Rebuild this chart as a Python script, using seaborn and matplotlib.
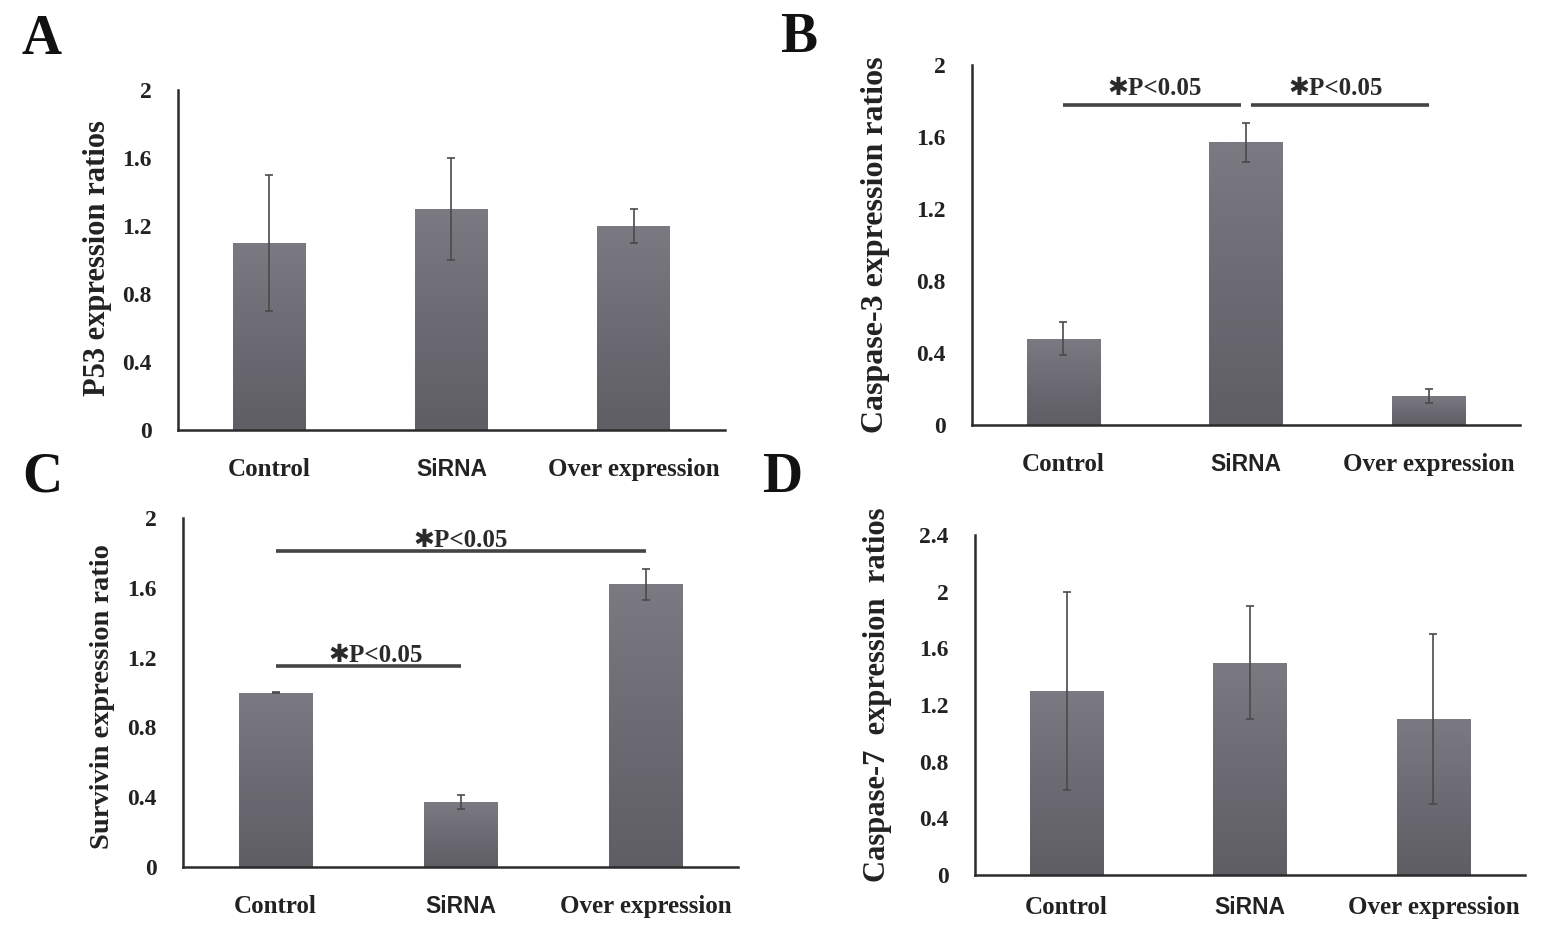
import matplotlib
matplotlib.use("Agg")
import matplotlib.pyplot as plt
import matplotlib.transforms as mtransforms
import seaborn as sns
import numpy as np

sns.set_theme(style="white")
plt.rcParams['font.family'] = ['Liberation Serif', 'DejaVu Sans']

categories = ["Control", "SiRNA", "Over expression"]

p53_vals = [1.10, 1.30, 1.20]
p53_err = [0.40, 0.30, 0.10]

casp3_vals = [0.48, 1.57, 0.16]
casp3_err = [0.09, 0.11, 0.04]

surv_vals = [1.00, 0.37, 1.62]
surv_err = [0.005, 0.04, 0.09]

casp7_vals = [1.30, 1.50, 1.10]
casp7_err = [0.70, 0.40, 0.60]

ticks_2 = [0, 0.4, 0.8, 1.2, 1.6, 2.0]
ticks_2_labels = ["0", "0.4", "0.8", "1.2", "1.6", "2"]
ticks_24 = [0, 0.4, 0.8, 1.2, 1.6, 2.0, 2.4]
ticks_24_labels = ["0", "0.4", "0.8", "1.2", "1.6", "2", "2.4"]

BAR = "#716f78"
ERR = "#4a4a4a"
AX = "#2b2b2b"
TXT = "#222222"

fig = plt.figure(figsize=(15.46, 9.44), dpi=100)
W, H = 1546, 944

def add_ax(l, r, t, b):
    return fig.add_axes([l / W, 1 - b / H, (r - l) / W, (b - t) / H])

axA = add_ax(178, 725, 90, 430)
axB = add_ax(972, 1520, 65, 425)
axC = add_ax(183, 738, 518, 867)
axD = add_ax(975, 1525, 535, 875)

grad = np.linspace(0, 1, 256).reshape(-1, 1)
cmap = matplotlib.colors.LinearSegmentedColormap.from_list(
    "bar", ["#5f5e65", "#6c6b73", "#7b7982"])

def draw(ax, vals, errs, ylabel, ymax, ticks, tlabels, lab_x, lab_y, lab_fs,
         xpad=20, sirna_raise=0):
    sns.barplot(x=categories, y=vals, color=BAR, width=0.4, ax=ax,
                errorbar=None, saturation=1, edgecolor="none")
    for p in ax.patches:
        x0, y0 = p.get_x(), p.get_y()
        w, h = p.get_width(), p.get_height()
        im = ax.imshow(grad, cmap=cmap, aspect="auto", origin="lower",
                       extent=[x0, x0 + w, y0, y0 + h], zorder=p.get_zorder() + 0.1)
        im.set_clip_path(p)
    ax.errorbar(range(len(vals)), vals, yerr=errs, fmt="none", ecolor=ERR,
                elinewidth=1.2, capsize=3, capthick=1.2, zorder=5)
    ax.set_xlim(-0.5, 2.5)
    ax.set_ylim(0, ymax)
    ax.set_yticks(ticks)
    ax.set_yticklabels(tlabels, fontsize=17, fontweight="bold",
                       family="Liberation Serif")
    ax.set_xticks([0, 1, 2])
    ax.set_xticklabels(categories, fontsize=18, fontweight="bold")
    for lbl in ax.get_xticklabels():
        if lbl.get_text() == "SiRNA":
            lbl.set_family("Liberation Sans")
            lbl.set_fontsize(16.5)
            if sirna_raise:
                lbl.set_transform(lbl.get_transform() + mtransforms.ScaledTranslation(
                    0, sirna_raise / 100, fig.dpi_scale_trans))
    ax.tick_params(axis="x", which="major", length=0, pad=xpad)
    ax.set_xticks([-0.5, 0.5, 1.5, 2.5], minor=True)
    ax.tick_params(axis="x", which="minor", length=7, width=1.5,
                   color=AX, direction="out")
    ax.tick_params(axis="y", length=5, width=1.5, color=AX,
                   direction="out", pad=14, labelcolor=TXT)
    ax.tick_params(axis="x", labelcolor=TXT)
    ax.set_xlabel("")
    ax.set_ylabel(ylabel, fontsize=lab_fs, fontweight="bold", color=TXT)
    ax.yaxis.set_label_coords(lab_x, lab_y)
    for s in ["top", "right"]:
        ax.spines[s].set_visible(False)
    for s in ["left", "bottom"]:
        ax.spines[s].set_color(AX)
        ax.spines[s].set_linewidth(1.8)
    ax.grid(False)

draw(axA, p53_vals, p53_err, "P53 expression ratios", 2.0,
     ticks_2, ticks_2_labels, -0.121, 0.505, 22)
draw(axB, casp3_vals, casp3_err, "Caspase-3 expression ratios", 2.0,
     ticks_2, ticks_2_labels, -0.150, 0.5, 23)
draw(axC, surv_vals, surv_err, "Survivin expression ratio", 2.0,
     ticks_2, ticks_2_labels, -0.1225, 0.487, 20.5)
draw(axD, casp7_vals, casp7_err, "Caspase-7  expression  ratios", 2.4,
     ticks_24, ticks_24_labels, -0.151, 0.53, 22, xpad=15, sirna_raise=8)

def sig(ax, x0, x1, y, ty, tx):
    ax.plot([x0, x1], [y, y], color="#444444", lw=2.6, solid_capstyle="butt",
            clip_on=False)
    ax.text(tx, ty, "\u2731P<0.05", ha="center", va="center", fontsize=18,
            fontweight="bold", color="#2a2a2a",
            family=["Liberation Serif", "DejaVu Sans"])

sig(axB, 0.0, 0.97, 1.78, 1.87, 0.5)
sig(axB, 1.03, 2.0, 1.78, 1.87, 1.49)
sig(axC, 0.0, 2.0, 1.81, 1.87, 1.0)
sig(axC, 0.0, 1.0, 1.15, 1.21, 0.54)

for letter, x, y in [("A", 22, 40), ("B", 780, 38), ("C", 22, 478), ("D", 762, 478)]:
    fig.text(x / W, 1 - y / H, letter, fontsize=40, fontweight="bold",
             family="Liberation Serif", ha="left", va="center", color="#111111")

fig.savefig("out.png", dpi=100, facecolor="white")
